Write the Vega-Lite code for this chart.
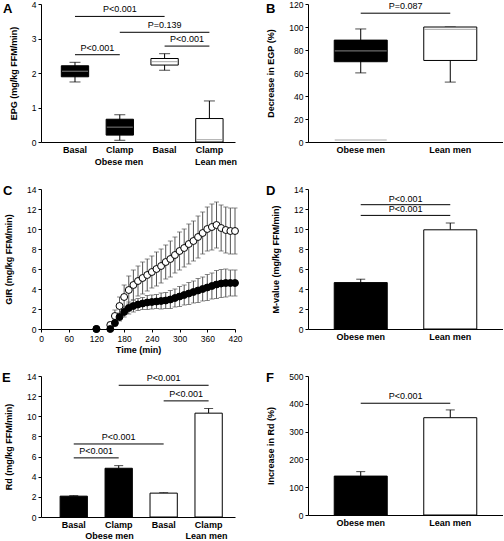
{
  "$schema": "https://vega.github.io/schema/vega-lite/v6.json",
  "padding": {"left": 2, "top": 0, "right": 0, "bottom": 0},
  "bounds": "flush",
  "columns": 2,
  "spacing": {"row": 47, "column": 73},
  "config": {
    "font": "Liberation Sans",
    "view": {"stroke": null},
    "axis": {"grid": false, "labelOverlap": false, "labelFlush": false, "domainColor": "#000", "tickColor": "#000", "labelColor": "#000", "titleColor": "#000", "tickSize": 3, "labelPadding": 2, "titlePadding": 13, "labelFontSize": 8.5, "titleFontSize": 9, "titleFontWeight": "bold", "labelFont": "Liberation Sans", "titleFont": "Liberation Sans"},
    "title": {"font": "Liberation Sans", "fontSize": 13, "fontWeight": "bold", "anchor": "start", "frame": "group", "offset": 0, "baseline": "top", "color": "#000"},
    "text": {"font": "Liberation Sans", "fontSize": 9, "color": "#000"}
  },
  "datasets": {
    "groups": [{"group": "Obese men"}, {"group": "Lean men"}],
    "boxA": [
      {"key": "Basal (obese)", "group": "Obese men", "lower": 1.74, "q1": 1.89, "median": 2.05, "q3": 2.21, "upper": 2.31},
      {"key": "Clamp (obese)", "group": "Obese men", "lower": 0.05, "q1": 0.2, "median": 0.43, "q3": 0.66, "upper": 0.79},
      {"key": "Basal (lean)", "group": "Lean men", "lower": 2.08, "q1": 2.23, "median": 2.33, "q3": 2.42, "upper": 2.56},
      {"key": "Clamp (lean)", "group": "Lean men", "lower": 0, "q1": 0, "median": 0.07, "q3": 0.68, "upper": 1.19}
    ],
    "bracketsA": [
      {"from": "Basal (obese)", "to": "Basal (lean)", "mid": "Clamp (obese)", "y": 3.64, "p": "P<0.001"},
      {"from": "Clamp (obese)", "to": "Clamp (lean)", "mid": "Basal (lean)", "y": 3.18, "p": "P=0.139"},
      {"from": "Basal (lean)", "to": "Clamp (lean)", "y": 2.78, "p": "P<0.001"},
      {"from": "Basal (obese)", "to": "Clamp (obese)", "y": 2.53, "p": "P<0.001"}
    ],
    "boxB": [
      {"group": "Obese men", "lower": 60.1, "q1": 69.8, "median": 79.2, "q3": 88.6, "upper": 98.3, "outlier": 1.7},
      {"group": "Lean men", "lower": 52.1, "q1": 70.9, "median": 98.0, "q3": 100, "upper": 100}
    ],
    "bracketsB": [{"from": "Obese men", "to": "Lean men", "y": 112, "p": "P=0.087"}],
    "gir": [
      {"t": 120, "group": "Lean men", "mean": 0, "se": 0},
      {"t": 150, "group": "Lean men", "mean": 0.4, "se": 0.3},
      {"t": 160, "group": "Lean men", "mean": 1.3, "se": 0.6},
      {"t": 170, "group": "Lean men", "mean": 2.3, "se": 0.9},
      {"t": 180, "group": "Lean men", "mean": 3.2, "se": 1.2},
      {"t": 190, "group": "Lean men", "mean": 3.9, "se": 1.4},
      {"t": 200, "group": "Lean men", "mean": 4.4, "se": 1.5},
      {"t": 210, "group": "Lean men", "mean": 4.8, "se": 1.5},
      {"t": 220, "group": "Lean men", "mean": 5.1, "se": 1.6},
      {"t": 230, "group": "Lean men", "mean": 5.4, "se": 1.6},
      {"t": 240, "group": "Lean men", "mean": 5.7, "se": 1.6},
      {"t": 250, "group": "Lean men", "mean": 6.0, "se": 1.7},
      {"t": 260, "group": "Lean men", "mean": 6.3, "se": 1.7},
      {"t": 270, "group": "Lean men", "mean": 6.7, "se": 1.7},
      {"t": 280, "group": "Lean men", "mean": 7.0, "se": 1.8},
      {"t": 290, "group": "Lean men", "mean": 7.4, "se": 1.8},
      {"t": 300, "group": "Lean men", "mean": 7.8, "se": 1.9},
      {"t": 310, "group": "Lean men", "mean": 8.1, "se": 1.9},
      {"t": 320, "group": "Lean men", "mean": 8.5, "se": 2.0},
      {"t": 330, "group": "Lean men", "mean": 8.8, "se": 2.0},
      {"t": 340, "group": "Lean men", "mean": 9.2, "se": 2.1},
      {"t": 350, "group": "Lean men", "mean": 9.6, "se": 2.1},
      {"t": 360, "group": "Lean men", "mean": 10.0, "se": 2.2},
      {"t": 370, "group": "Lean men", "mean": 10.2, "se": 2.3},
      {"t": 380, "group": "Lean men", "mean": 10.4, "se": 2.3},
      {"t": 390, "group": "Lean men", "mean": 10.1, "se": 2.3},
      {"t": 400, "group": "Lean men", "mean": 9.9, "se": 2.3},
      {"t": 410, "group": "Lean men", "mean": 9.8, "se": 2.3},
      {"t": 420, "group": "Lean men", "mean": 9.8, "se": 2.3},
      {"t": 120, "group": "Obese men", "mean": 0, "se": 0},
      {"t": 150, "group": "Obese men", "mean": 0, "se": 0},
      {"t": 160, "group": "Obese men", "mean": 0.6, "se": 0.3},
      {"t": 170, "group": "Obese men", "mean": 1.2, "se": 0.4},
      {"t": 180, "group": "Obese men", "mean": 1.7, "se": 0.5},
      {"t": 190, "group": "Obese men", "mean": 2.1, "se": 0.6},
      {"t": 200, "group": "Obese men", "mean": 2.3, "se": 0.6},
      {"t": 210, "group": "Obese men", "mean": 2.45, "se": 0.6},
      {"t": 220, "group": "Obese men", "mean": 2.55, "se": 0.6},
      {"t": 230, "group": "Obese men", "mean": 2.65, "se": 0.7},
      {"t": 240, "group": "Obese men", "mean": 2.7, "se": 0.7},
      {"t": 250, "group": "Obese men", "mean": 2.75, "se": 0.7},
      {"t": 260, "group": "Obese men", "mean": 2.8, "se": 0.8},
      {"t": 270, "group": "Obese men", "mean": 2.85, "se": 0.8},
      {"t": 280, "group": "Obese men", "mean": 2.95, "se": 0.9},
      {"t": 290, "group": "Obese men", "mean": 3.1, "se": 0.9},
      {"t": 300, "group": "Obese men", "mean": 3.25, "se": 1.0},
      {"t": 310, "group": "Obese men", "mean": 3.4, "se": 1.0},
      {"t": 320, "group": "Obese men", "mean": 3.55, "se": 1.1},
      {"t": 330, "group": "Obese men", "mean": 3.7, "se": 1.1},
      {"t": 340, "group": "Obese men", "mean": 3.85, "se": 1.2},
      {"t": 350, "group": "Obese men", "mean": 4.0, "se": 1.2},
      {"t": 360, "group": "Obese men", "mean": 4.15, "se": 1.3},
      {"t": 370, "group": "Obese men", "mean": 4.3, "se": 1.3},
      {"t": 380, "group": "Obese men", "mean": 4.45, "se": 1.4},
      {"t": 390, "group": "Obese men", "mean": 4.55, "se": 1.4},
      {"t": 400, "group": "Obese men", "mean": 4.6, "se": 1.4},
      {"t": 410, "group": "Obese men", "mean": 4.6, "se": 1.3},
      {"t": 420, "group": "Obese men", "mean": 4.6, "se": 1.3}
    ],
    "barD": [
      {"group": "Obese men", "mean": 4.64, "upper": 4.98},
      {"group": "Lean men", "mean": 9.92, "upper": 10.6}
    ],
    "bracketsD": [
      {"from": "Obese men", "to": "Lean men", "y": 12.43, "p": "P<0.001"},
      {"from": "Obese men", "to": "Lean men", "y": 11.36, "p": "P<0.001"}
    ],
    "barE": [
      {"key": "Basal (obese)", "group": "Obese men", "mean": 2.07, "upper": 2.12},
      {"key": "Clamp (obese)", "group": "Obese men", "mean": 4.84, "upper": 5.1},
      {"key": "Basal (lean)", "group": "Lean men", "mean": 2.37, "upper": 2.41},
      {"key": "Clamp (lean)", "group": "Lean men", "mean": 10.31, "upper": 10.77}
    ],
    "bracketsE": [
      {"from": "Clamp (obese)", "to": "Clamp (lean)", "mid": "Basal (lean)", "y": 13.08, "p": "P<0.001"},
      {"from": "Basal (lean)", "to": "Clamp (lean)", "y": 11.53, "p": "P<0.001"},
      {"from": "Basal (obese)", "to": "Basal (lean)", "mid": "Clamp (obese)", "y": 7.25, "p": "P<0.001"},
      {"from": "Basal (obese)", "to": "Clamp (obese)", "y": 5.87, "p": "P<0.001"}
    ],
    "barF": [
      {"group": "Obese men", "mean": 140, "upper": 156},
      {"group": "Lean men", "mean": 350, "upper": 378}
    ],
    "bracketsF": [{"from": "Obese men", "to": "Lean men", "y": 402, "p": "P<0.001"}]
  },
  "concat": [
    {
      "width": 194, "height": 138,
      "title": {"text": "A", "dx": -38, "dy": 20},
      "resolve": {"scale": {"x": "independent"}},
      "layer": [
        {
          "layer": [
            {"data": {"name": "boxA"}, "mark": {"type": "rule", "color": "#000", "strokeWidth": 1},
             "encoding": {
               "x": {"field": "key", "type": "nominal", "bandPosition": 0.5, "scale": {"domain": ["Basal (obese)", "Clamp (obese)", "Basal (lean)", "Clamp (lean)"], "paddingInner": 0.39, "paddingOuter": 0.36, "align": 0.63}, "axis": {"title": null, "ticks": false, "labelAngle": 0, "labelFontSize": 9, "labelFontWeight": "bold", "labelPadding": 3, "labelOverlap": false, "labelExpr": "split(datum.label, ' ')[0]"}},
               "y": {"field": "lower", "type": "quantitative", "scale": {"domain": [0, 4], "nice": false}, "axis": {"title": "EPG (mg/kg FFM/min)", "values": [0, 1, 2, 3, 4], "tickCount": 50, "format": "d", "labelOverlap": false}},
               "y2": {"field": "upper"}}},
            {"data": {"name": "boxA"}, "mark": {"type": "tick", "color": "#000", "size": 11, "thickness": 1},
             "encoding": {"x": {"field": "key", "type": "nominal", "scale": {"domain": ["Basal (obese)", "Clamp (obese)", "Basal (lean)", "Clamp (lean)"]}}, "y": {"field": "upper", "type": "quantitative"}}},
            {"data": {"name": "boxA"}, "mark": {"type": "tick", "color": "#000", "size": 11, "thickness": 1},
             "encoding": {"x": {"field": "key", "type": "nominal", "scale": {"domain": ["Basal (obese)", "Clamp (obese)", "Basal (lean)", "Clamp (lean)"]}}, "y": {"field": "lower", "type": "quantitative"}}},
            {"data": {"name": "boxA"}, "mark": {"type": "bar", "stroke": "#000", "strokeWidth": 1},
             "encoding": {"x": {"field": "key", "type": "nominal", "scale": {"domain": ["Basal (obese)", "Clamp (obese)", "Basal (lean)", "Clamp (lean)"]}}, "y": {"field": "q1", "type": "quantitative"}, "y2": {"field": "q3"},
               "fill": {"field": "group", "type": "nominal", "scale": {"domain": ["Obese men", "Lean men"], "range": ["#000", "#fff"]}, "legend": null}}},
            {"data": {"name": "boxA"}, "mark": {"type": "tick", "color": "#999", "size": 26, "thickness": 1.2},
             "encoding": {"x": {"field": "key", "type": "nominal", "scale": {"domain": ["Basal (obese)", "Clamp (obese)", "Basal (lean)", "Clamp (lean)"]}}, "y": {"field": "median", "type": "quantitative"}}},
            {"data": {"name": "bracketsA"}, "mark": {"type": "rule", "color": "#000", "strokeWidth": 1},
             "encoding": {"x": {"field": "from", "type": "nominal", "bandPosition": 0.5, "scale": {"domain": ["Basal (obese)", "Clamp (obese)", "Basal (lean)", "Clamp (lean)"]}}, "x2": {"field": "to"}, "y": {"field": "y", "type": "quantitative"}}},
            {"data": {"name": "bracketsA"}, "transform": [{"filter": "isValid(datum.mid)"}], "mark": {"type": "text", "baseline": "bottom", "dy": -2},
             "encoding": {"x": {"field": "mid", "type": "nominal", "scale": {"domain": ["Basal (obese)", "Clamp (obese)", "Basal (lean)", "Clamp (lean)"]}}, "y": {"field": "y", "type": "quantitative"}, "text": {"field": "p"}}},
            {"data": {"name": "bracketsA"}, "transform": [{"filter": "!isValid(datum.mid)"}], "mark": {"type": "text", "baseline": "bottom", "dy": -2},
             "encoding": {"x": {"field": "from", "type": "nominal", "bandPosition": 1.32, "scale": {"domain": ["Basal (obese)", "Clamp (obese)", "Basal (lean)", "Clamp (lean)"]}}, "y": {"field": "y", "type": "quantitative"}, "text": {"field": "p"}}}
          ]
        },
        {"data": {"name": "groups"}, "mark": {"type": "point", "opacity": 0},
         "encoding": {"x": {"field": "group", "type": "nominal", "scale": {"domain": ["Obese men", "Lean men"], "paddingInner": 0, "paddingOuter": 0.05, "align": 0.8}, "axis": {"orient": "bottom", "title": null, "ticks": false, "domain": false, "labelAngle": 0, "labelPadding": 15, "labelFontSize": 9, "labelFontWeight": "bold", "labelOverlap": false}}}}
      ]
    },
    {
      "width": 195, "height": 138,
      "title": {"text": "B", "dx": -42, "dy": 20},
      "layer": [
        {"data": {"name": "boxB"}, "mark": {"type": "rule", "color": "#000", "strokeWidth": 1},
         "encoding": {
           "x": {"field": "group", "type": "nominal", "bandPosition": 0.5, "scale": {"domain": ["Obese men", "Lean men"], "paddingInner": 0.408, "paddingOuter": 0.293}, "axis": {"title": null, "ticks": false, "labelAngle": 0, "labelFontSize": 9, "labelFontWeight": "bold", "labelPadding": 3, "labelOverlap": false}},
           "y": {"field": "lower", "type": "quantitative", "scale": {"domain": [0, 120], "nice": false}, "axis": {"title": "Decrease in EGP (%)", "values": [0, 20, 40, 60, 80, 100, 120], "tickCount": 50, "format": "d", "labelOverlap": false}},
           "y2": {"field": "upper"}}},
        {"data": {"name": "boxB"}, "mark": {"type": "tick", "color": "#000", "size": 11, "thickness": 1},
         "encoding": {"x": {"field": "group", "type": "nominal"}, "y": {"field": "upper", "type": "quantitative"}}},
        {"data": {"name": "boxB"}, "mark": {"type": "tick", "color": "#000", "size": 11, "thickness": 1},
         "encoding": {"x": {"field": "group", "type": "nominal"}, "y": {"field": "lower", "type": "quantitative"}}},
        {"data": {"name": "boxB"}, "mark": {"type": "bar", "stroke": "#000", "strokeWidth": 1},
         "encoding": {"x": {"field": "group", "type": "nominal"}, "y": {"field": "q1", "type": "quantitative"}, "y2": {"field": "q3"},
           "fill": {"field": "group", "type": "nominal", "scale": {"domain": ["Obese men", "Lean men"], "range": ["#000", "#fff"]}, "legend": null}}},
        {"data": {"name": "boxB"}, "mark": {"type": "tick", "color": "#999", "size": 52, "thickness": 1.2},
         "encoding": {"x": {"field": "group", "type": "nominal"}, "y": {"field": "median", "type": "quantitative"}}},
        {"data": {"name": "boxB"}, "mark": {"type": "tick", "color": "#888", "size": 52, "thickness": 1},
         "encoding": {"x": {"field": "group", "type": "nominal"}, "y": {"field": "outlier", "type": "quantitative"}}},
        {"data": {"name": "bracketsB"}, "mark": {"type": "rule", "color": "#000", "strokeWidth": 1},
         "encoding": {"x": {"field": "from", "type": "nominal", "bandPosition": 0.5}, "x2": {"field": "to"}, "y": {"field": "y", "type": "quantitative"}}},
        {"data": {"name": "bracketsB"}, "mark": {"type": "text", "baseline": "bottom", "dy": -2},
         "encoding": {"x": {"field": "from", "type": "nominal", "bandPosition": 1.345}, "y": {"field": "y", "type": "quantitative"}, "text": {"field": "p"}}}
      ]
    },
    {
      "width": 194, "height": 140,
      "title": {"text": "C", "dx": -38, "dy": 17},
      "layer": [
        {"data": {"name": "gir"}, "mark": {"type": "errorbar", "color": "#555", "thickness": 1, "ticks": {"size": 5, "thickness": 1}},
         "encoding": {
           "x": {"field": "t", "type": "quantitative", "scale": {"domain": [0, 420], "nice": false}, "axis": {"title": "Time (min)", "values": [0, 60, 120, 180, 240, 300, 360, 420], "tickCount": 50, "format": "d", "titlePadding": 3, "labelOverlap": false}},
           "y": {"field": "mean", "type": "quantitative", "scale": {"domain": [0, 14], "nice": false}, "axis": {"title": "GIR (mg/kg FFM/min)", "values": [0, 2, 4, 6, 8, 10, 12, 14], "tickCount": 50, "format": "d", "labelOverlap": false}},
           "yError": {"field": "se"},
           "detail": {"field": "group"}}},
        {"data": {"name": "gir"}, "transform": [{"filter": "datum.group == 'Lean men'"}], "mark": {"type": "point", "filled": false, "fill": "#fff", "stroke": "#000", "strokeWidth": 1, "size": 48, "opacity": 1},
         "encoding": {"x": {"field": "t", "type": "quantitative"}, "y": {"field": "mean", "type": "quantitative"}}},
        {"data": {"name": "gir"}, "transform": [{"filter": "datum.group == 'Obese men'"}], "mark": {"type": "point", "filled": true, "fill": "#000", "stroke": "#000", "strokeWidth": 1, "size": 48, "opacity": 1},
         "encoding": {"x": {"field": "t", "type": "quantitative"}, "y": {"field": "mean", "type": "quantitative"}}}
      ]
    },
    {
      "width": 195, "height": 140,
      "title": {"text": "D", "dx": -42, "dy": 17},
      "layer": [
        {"data": {"name": "barD"}, "mark": {"type": "rule", "color": "#000", "strokeWidth": 1},
         "encoding": {
           "x": {"field": "group", "type": "nominal", "bandPosition": 0.5, "scale": {"domain": ["Obese men", "Lean men"], "paddingInner": 0.408, "paddingOuter": 0.293}, "axis": {"title": null, "ticks": false, "labelAngle": 0, "labelFontSize": 9, "labelFontWeight": "bold", "labelPadding": 3, "labelOverlap": false}},
           "y": {"field": "mean", "type": "quantitative", "scale": {"domain": [0, 14], "nice": false}, "axis": {"title": "M-value (mg/kg FFM/min)", "values": [0, 2, 4, 6, 8, 10, 12, 14], "tickCount": 50, "format": "d", "labelOverlap": false}},
           "y2": {"field": "upper"}}},
        {"data": {"name": "barD"}, "mark": {"type": "tick", "color": "#000", "size": 9, "thickness": 1},
         "encoding": {"x": {"field": "group", "type": "nominal"}, "y": {"field": "upper", "type": "quantitative"}}},
        {"data": {"name": "barD"}, "mark": {"type": "bar", "stroke": "#000", "strokeWidth": 1},
         "encoding": {"x": {"field": "group", "type": "nominal"}, "y": {"field": "mean", "type": "quantitative"},
           "fill": {"field": "group", "type": "nominal", "scale": {"domain": ["Obese men", "Lean men"], "range": ["#000", "#fff"]}, "legend": null}}},
        {"data": {"name": "bracketsD"}, "mark": {"type": "rule", "color": "#000", "strokeWidth": 1},
         "encoding": {"x": {"field": "from", "type": "nominal", "bandPosition": 0.5}, "x2": {"field": "to"}, "y": {"field": "y", "type": "quantitative"}}},
        {"data": {"name": "bracketsD"}, "mark": {"type": "text", "baseline": "bottom", "dy": -1},
         "encoding": {"x": {"field": "from", "type": "nominal", "bandPosition": 1.345}, "y": {"field": "y", "type": "quantitative"}, "text": {"field": "p"}}}
      ]
    },
    {
      "width": 194, "height": 141,
      "title": {"text": "E", "dx": -39, "dy": 17},
      "resolve": {"scale": {"x": "independent"}},
      "layer": [
        {
          "layer": [
            {"data": {"name": "barE"}, "mark": {"type": "rule", "color": "#000", "strokeWidth": 1},
             "encoding": {
               "x": {"field": "key", "type": "nominal", "bandPosition": 0.5, "scale": {"domain": ["Basal (obese)", "Clamp (obese)", "Basal (lean)", "Clamp (lean)"], "paddingInner": 0.393, "paddingOuter": 0.354, "align": 0.6}, "axis": {"title": null, "ticks": false, "labelAngle": 0, "labelFontSize": 9, "labelFontWeight": "bold", "labelPadding": 3, "labelOverlap": false, "labelExpr": "split(datum.label, ' ')[0]"}},
               "y": {"field": "mean", "type": "quantitative", "scale": {"domain": [0, 14], "nice": false}, "axis": {"title": "Rd (mg/kg FFM/min)", "values": [0, 2, 4, 6, 8, 10, 12, 14], "tickCount": 50, "format": "d", "labelOverlap": false}},
               "y2": {"field": "upper"}}},
            {"data": {"name": "barE"}, "mark": {"type": "tick", "color": "#000", "size": 9, "thickness": 1},
             "encoding": {"x": {"field": "key", "type": "nominal", "scale": {"domain": ["Basal (obese)", "Clamp (obese)", "Basal (lean)", "Clamp (lean)"]}}, "y": {"field": "upper", "type": "quantitative"}}},
            {"data": {"name": "barE"}, "mark": {"type": "bar", "stroke": "#000", "strokeWidth": 1},
             "encoding": {"x": {"field": "key", "type": "nominal", "scale": {"domain": ["Basal (obese)", "Clamp (obese)", "Basal (lean)", "Clamp (lean)"]}}, "y": {"field": "mean", "type": "quantitative"},
               "fill": {"field": "group", "type": "nominal", "scale": {"domain": ["Obese men", "Lean men"], "range": ["#000", "#fff"]}, "legend": null}}},
            {"data": {"name": "bracketsE"}, "mark": {"type": "rule", "color": "#000", "strokeWidth": 1},
             "encoding": {"x": {"field": "from", "type": "nominal", "bandPosition": 0.5, "scale": {"domain": ["Basal (obese)", "Clamp (obese)", "Basal (lean)", "Clamp (lean)"]}}, "x2": {"field": "to"}, "y": {"field": "y", "type": "quantitative"}}},
            {"data": {"name": "bracketsE"}, "transform": [{"filter": "isValid(datum.mid)"}], "mark": {"type": "text", "baseline": "bottom", "dy": -2},
             "encoding": {"x": {"field": "mid", "type": "nominal", "scale": {"domain": ["Basal (obese)", "Clamp (obese)", "Basal (lean)", "Clamp (lean)"]}}, "y": {"field": "y", "type": "quantitative"}, "text": {"field": "p"}}},
            {"data": {"name": "bracketsE"}, "transform": [{"filter": "!isValid(datum.mid)"}], "mark": {"type": "text", "baseline": "bottom", "dy": -2},
             "encoding": {"x": {"field": "from", "type": "nominal", "bandPosition": 1.324, "scale": {"domain": ["Basal (obese)", "Clamp (obese)", "Basal (lean)", "Clamp (lean)"]}}, "y": {"field": "y", "type": "quantitative"}, "text": {"field": "p"}}}
          ]
        },
        {"data": {"name": "groups"}, "mark": {"type": "point", "opacity": 0},
         "encoding": {"x": {"field": "group", "type": "nominal", "scale": {"domain": ["Obese men", "Lean men"], "paddingInner": 0, "paddingOuter": 0.05, "align": 0.7}, "axis": {"orient": "bottom", "title": null, "ticks": false, "domain": false, "labelAngle": 0, "labelPadding": 14, "labelFontSize": 9, "labelFontWeight": "bold", "labelOverlap": false}}}}
      ]
    },
    {
      "width": 195, "height": 139,
      "title": {"text": "F", "dx": -42, "dy": 17},
      "layer": [
        {"data": {"name": "barF"}, "mark": {"type": "rule", "color": "#000", "strokeWidth": 1},
         "encoding": {
           "x": {"field": "group", "type": "nominal", "bandPosition": 0.5, "scale": {"domain": ["Obese men", "Lean men"], "paddingInner": 0.408, "paddingOuter": 0.293}, "axis": {"title": null, "ticks": false, "labelAngle": 0, "labelFontSize": 9, "labelFontWeight": "bold", "labelPadding": 3, "labelOverlap": false}},
           "y": {"field": "mean", "type": "quantitative", "scale": {"domain": [0, 500], "nice": false}, "axis": {"title": "Increase in Rd (%)", "values": [0, 100, 200, 300, 400, 500], "tickCount": 50, "format": "d", "labelOverlap": false}},
           "y2": {"field": "upper"}}},
        {"data": {"name": "barF"}, "mark": {"type": "tick", "color": "#000", "size": 9, "thickness": 1},
         "encoding": {"x": {"field": "group", "type": "nominal"}, "y": {"field": "upper", "type": "quantitative"}}},
        {"data": {"name": "barF"}, "mark": {"type": "bar", "stroke": "#000", "strokeWidth": 1},
         "encoding": {"x": {"field": "group", "type": "nominal"}, "y": {"field": "mean", "type": "quantitative"},
           "fill": {"field": "group", "type": "nominal", "scale": {"domain": ["Obese men", "Lean men"], "range": ["#000", "#fff"]}, "legend": null}}},
        {"data": {"name": "bracketsF"}, "mark": {"type": "rule", "color": "#000", "strokeWidth": 1},
         "encoding": {"x": {"field": "from", "type": "nominal", "bandPosition": 0.5}, "x2": {"field": "to"}, "y": {"field": "y", "type": "quantitative"}}},
        {"data": {"name": "bracketsF"}, "mark": {"type": "text", "baseline": "bottom", "dy": -2},
         "encoding": {"x": {"field": "from", "type": "nominal", "bandPosition": 1.345}, "y": {"field": "y", "type": "quantitative"}, "text": {"field": "p"}}}
      ]
    }
  ]
}
